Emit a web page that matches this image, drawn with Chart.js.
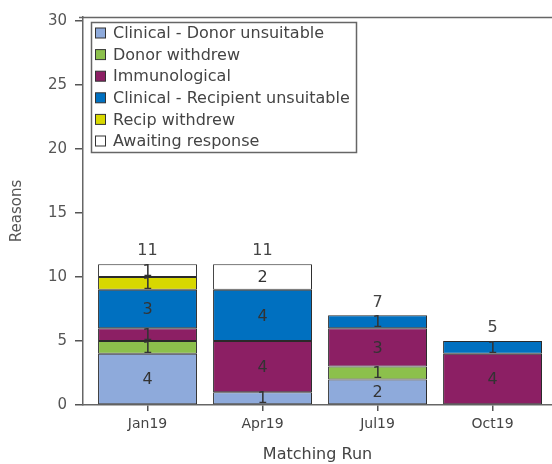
<!DOCTYPE html>
<html>
<head>
<meta charset="utf-8">
<script src="https://cdn.jsdelivr.net/npm/chart.js@4"></script>
<style>
  html, body { margin: 0; padding: 0; background: #fff; }
  #wrap { width: 552px; height: 464px; }
</style>
</head>
<body>
<div id="wrap"><canvas id="chart"></canvas></div>
<script>
// matching runs (x axis)
const runs = ["Jan19", "Apr19", "Jul19", "Oct19"];

// reasons per run, bottom to top of each stack
const clinicalDonor = [4, 1, 2, 0];
const donorWithdrew = [1, 0, 1, 0];
const immunological = [1, 4, 3, 4];
const clinicalRecipient = [3, 4, 1, 1];
const recipWithdrew = [1, 0, 0, 0];
const awaitingResponse = [1, 2, 0, 0];

const yTicks = [0, 5, 10, 15, 20, 25, 30];

const series = [
    { label: "Clinical - Donor unsuitable", data: clinicalDonor, color: "#8eaadb" },
    { label: "Donor withdrew", data: donorWithdrew, color: "#8cc04c" },
    { label: "Immunological", data: immunological, color: "#8c1f64" },
    { label: "Clinical - Recipient unsuitable", data: clinicalRecipient, color: "#0070c0" },
    { label: "Recip withdrew", data: recipWithdrew, color: "#d8d800" },
    { label: "Awaiting response", data: awaitingResponse, color: "#ffffff" }
];

const FONT = "'DejaVu Sans', sans-serif";

// legende dessinee dans la zone du graphique, avec un cadre
const boxLegend = {
    id: "boxLegend",
    afterDraw(chart) {
        const ctx = chart.ctx;
        ctx.save();
        ctx.strokeStyle = "#666";
        ctx.lineWidth = 1.5;
        ctx.strokeRect(91.5, 22.5, 265, 130);
        ctx.font = "16px " + FONT;
        ctx.textBaseline = "middle";
        chart.data.datasets.forEach((ds, i) => {
            const y = 33 + i * 21.6;
            ctx.fillStyle = ds.backgroundColor;
            ctx.fillRect(95.5, y - 5, 10, 10);
            ctx.strokeStyle = "#333";
            ctx.lineWidth = 1;
            ctx.strokeRect(95.5, y - 5, 10, 10);
            ctx.fillStyle = "#444";
            ctx.fillText(ds.label, 113, y + 1);
        });
        ctx.restore();
    }
};

// valeurs dans les segments + totaux au-dessus + trait du haut
const valueLabels = {
    id: "valueLabels",
    afterDatasetsDraw(chart) {
        const ctx = chart.ctx;
        const area = chart.chartArea;
        ctx.save();
        ctx.strokeStyle = "#666";
        ctx.lineWidth = 1.5;
        ctx.beginPath();
        ctx.moveTo(area.left - 4, area.top + 0.5);
        ctx.lineTo(area.right, area.top + 0.5);
        ctx.stroke();

        ctx.font = "16px " + FONT;
        ctx.textAlign = "center";
        ctx.textBaseline = "middle";
        ctx.fillStyle = "#333";
        chart.data.datasets.forEach((ds, di) => {
            const meta = chart.getDatasetMeta(di);
            meta.data.forEach((bar, i) => {
                const v = series[di].data[i];
                if (!v) return;
                ctx.fillText(String(v), bar.x, (bar.y + bar.base) / 2 + 1);
            });
        });
        // totaux
        const yScale = chart.scales.y;
        ctx.fillStyle = "#444";
        runs.forEach((r, i) => {
            const total = series.reduce((s, sr) => s + sr.data[i], 0);
            const bar = chart.getDatasetMeta(0).data[i];
            ctx.fillText(String(total), bar.x, yScale.getPixelForValue(total) - 13);
        });
        ctx.restore();
    }
};

new Chart(document.getElementById("chart"), {
    type: "bar",
    data: {
        datasets: series.map(s => ({
            label: s.label,
            data: s.data.map((v, i) => ({ x: i, y: v || null })),
            backgroundColor: s.color,
            borderColor: "#2a2a2a",
            borderWidth: 1,
            borderSkipped: false,
            barPercentage: 0.86,
            categoryPercentage: 1
        }))
    },
    options: {
        responsive: true,
        maintainAspectRatio: false,
        animation: false,
        layout: { padding: { top: 16, left: 0, right: 0, bottom: 0 } },
        plugins: {
            legend: { display: false },
            tooltip: { enabled: false }
        },
        scales: {
            x: {
                type: "linear",
                stacked: true,
                offset: false,
                min: -0.561,
                max: 3.517,
                afterBuildTicks: scale => { scale.ticks = runs.map((r, i) => ({ value: i })); },
                afterFit: scale => { scale.height = 59; },
                grid: { offset: false, drawOnChartArea: false, drawTicks: true, tickLength: 6, color: "#555", lineWidth: 1.5 },
                border: { display: true, color: "#666", width: 1.5 },
                ticks: {
                    callback: v => runs[v],
                    font: { family: FONT, size: 14 },
                    color: "#444",
                    padding: 5,
                    maxRotation: 0,
                    autoSkip: false
                },
                title: {
                    display: true,
                    text: "Matching Run",
                    font: { family: FONT, size: 16 },
                    color: "#444",
                    padding: { top: 0, bottom: 0 }
                }
            },
            y: {
                stacked: true,
                min: 0,
                max: 30.3,
                afterBuildTicks: scale => { scale.ticks = yTicks.map(v => ({ value: v })); },
                afterFit: scale => { scale.width = 83; },
                grid: { drawOnChartArea: false, drawTicks: true, tickLength: 8, color: "#555", lineWidth: 1.5 },
                border: { display: true, color: "#666", width: 1.5 },
                ticks: {
                    font: { family: FONT, size: 15 },
                    color: "#555",
                    padding: 8
                },
                title: {
                    display: true,
                    text: "Reasons",
                    font: { family: FONT, size: 15 },
                    color: "#555",
                    padding: { top: 8, bottom: 0 }
                }
            }
        }
    },
    plugins: [boxLegend, valueLabels]
});
</script>
</body>
</html>
